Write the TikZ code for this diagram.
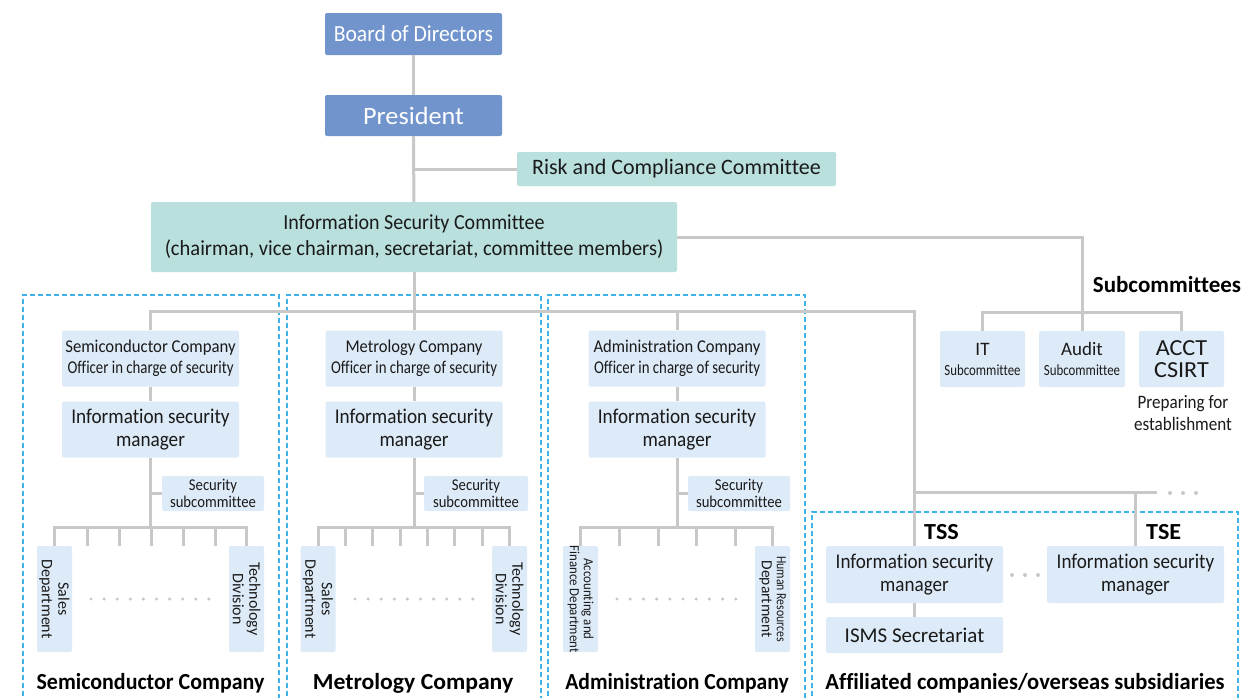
\documentclass[tikz,border=0pt]{standalone}
\usepackage{graphicx}
\usepackage{fontspec}
\setmainfont{Carlito}[Ligatures=NoCommon]
\definecolor{hdr}{HTML}{7194CC}
\definecolor{cteal}{HTML}{B9E0DD}
\definecolor{lblue}{HTML}{DDEAF7}
\definecolor{lgray}{HTML}{C8C8C8}
\definecolor{dgray}{HTML}{C8C8C8}
\definecolor{dsh}{HTML}{3DB3E8}
\definecolor{txt}{HTML}{1A1A1A}
\newcommand\hs[2]{\scalebox{#1}[1]{#2}}
\newcommand\fs[2]{\fontsize{#1}{#2}\selectfont}
\tikzset{
  conn/.style={draw=lgray, line width=3pt},
  bx/.style={rounded corners=2pt, fill=lblue, inner sep=0pt, align=center, text=txt},
  hbox/.style={bx, fill=hdr, text=white},
  tbox/.style={bx, fill=cteal},
  dept/.style={bx, minimum width=35pt, minimum height=106pt},
  vtxt/.style={rotate=-90, align=center, text=txt, inner sep=0pt},
  dbox/.style={draw=dsh, line width=1.4pt, dash pattern=on 5pt off 3pt},
  lab/.style={font=\fs{23}{26}\bfseries, text=black, inner sep=0pt},
  dot/.style={fill=dgray}
}
\begin{document}
\begin{tikzpicture}[x=1pt,y=-1pt]
\clip (0,0) rectangle (1247,697);
\fill[white] (0,0) rectangle (1247,697);
% dashed group boxes
\draw[dbox] (23,720) -- (23,295) -- (279,295) -- (279,720);
\draw[dbox] (287,720) -- (287,295) -- (541,295) -- (541,720);
\draw[dbox] (548,720) -- (548,295) -- (805,295) -- (805,720);
\draw[dbox] (812,720) -- (812,512) -- (1238,512) -- (1238,720);
% top nodes
\node[hbox, minimum width=177pt, minimum height=42pt, font=\fs{23}{26}] (bod) at (413.5,34) {\hs{0.94}{Board of Directors}};
\node[hbox, minimum width=177pt, minimum height=41pt, font=\fs{25}{28}] (pres) at (413.5,115.5) {\hs{1.05}{President}};
\node[tbox, minimum width=319pt, minimum height=34pt, font=\fs{22}{25}] (risk) at (676.5,169) {Risk and Compliance Committee};
\node[tbox, minimum width=526pt, minimum height=70pt, font=\fs{21.5}{26}] (isc) at (414,237) {\hs{0.93}{Information Security Committee}\\\hs{0.955}{(chairman, vice chairman, secretariat, committee members)}};
% columns
\node[bx, minimum width=177pt, minimum height=56pt, font=\fs{18}{21}] (semiO) at (150.5,358.5) {\hs{0.93}{Semiconductor Company}\\\hs{0.825}{Officer in charge of security}};
\node[bx, minimum width=177pt, minimum height=56pt, font=\fs{18}{21}] (metO) at (414,358.5) {\hs{0.92}{Metrology Company}\\\hs{0.825}{Officer in charge of security}};
\node[bx, minimum width=177pt, minimum height=56pt, font=\fs{18}{21}] (admO) at (677,358.5) {\hs{0.92}{Administration Company}\\\hs{0.825}{Officer in charge of security}};
\node[bx, minimum width=177pt, minimum height=56pt, font=\fs{21}{22.5}] (semiM) at (150.5,429.5) {\hs{0.915}{Information security}\\\hs{0.915}{manager}};
\node[bx, minimum width=177pt, minimum height=56pt, font=\fs{21}{22.5}] (metM) at (414,429.5) {\hs{0.915}{Information security}\\\hs{0.915}{manager}};
\node[bx, minimum width=177pt, minimum height=56pt, font=\fs{21}{22.5}] (admM) at (677,429.5) {\hs{0.915}{Information security}\\\hs{0.915}{manager}};
\node[bx, minimum width=102pt, minimum height=35pt, font=\fs{16.5}{16.5}] (semiS) at (213,493.5) {\hs{0.89}{Security}\\\hs{0.89}{subcommittee}};
\node[bx, minimum width=104pt, minimum height=35pt, font=\fs{16.5}{16.5}] (metS) at (476,493.5) {\hs{0.89}{Security}\\\hs{0.89}{subcommittee}};
\node[bx, minimum width=102pt, minimum height=35pt, font=\fs{16.5}{16.5}] (admS) at (739,493.5) {\hs{0.89}{Security}\\\hs{0.89}{subcommittee}};
% departments
\node[dept] (semiA) at (54.5,599) {};
\node[vtxt, font=\fs{16}{16.5}] (semiAt) at (semiA) {Sales\\Department};
\node[dept] (semiB) at (246.5,599) {};
\node[vtxt, font=\fs{16}{16.5}] (semiBt) at (semiB) {Technology\\Division};
\node[dept] (metA) at (318,599) {};
\node[vtxt, font=\fs{16}{16.5}] (metAt) at (metA) {Sales\\Department};
\node[dept] (metB) at (509.5,599) {};
\node[vtxt, font=\fs{16}{16.5}] (metBt) at (metB) {Technology\\Division};
\node[dept] (admA) at (580.5,599) {};
\node[vtxt, font=\fs{14}{14}] (admAt) at (admA) {\hs{0.92}{Accounting and}\\\hs{0.92}{Finance Department}};
\node[dept] (admB) at (772.5,599) {};
\node[vtxt, font=\fs{15.5}{15}] (admBt) at (admB) {\hs{0.84}{\fs{14}{14}Human Resources}\\Department};
% subcommittees
\node[bx, minimum width=85pt, minimum height=56pt, font=\fs{19}{20}] (it) at (982.5,359) {IT\\\hs{0.83}{\fs{15.5}{17}Subcommittee}};
\node[bx, minimum width=86pt, minimum height=56pt, font=\fs{19}{20}] (aud) at (1082,359) {Audit\\\hs{0.83}{\fs{15.5}{17}Subcommittee}};
\node[bx, minimum width=85pt, minimum height=56pt, font=\fs{23}{22}] (acct) at (1181.5,359) {\hs{1.05}{ACCT}\\\hs{1.05}{CSIRT}};
\node[font=\fs{19}{22}, align=center, text=txt, inner sep=0pt] (prep) at (1183,413) {\hs{0.9}{Preparing for}\\\hs{0.9}{establishment}};
\node[lab] (subl) at (1167,285) {Subcommittees};
% affiliated
\node[bx, minimum width=177pt, minimum height=57pt, font=\fs{21}{22.5}] (tssM) at (914.5,574.5) {\hs{0.91}{Information security}\\\hs{0.91}{manager}};
\node[bx, minimum width=177pt, minimum height=57pt, font=\fs{21}{22.5}] (tseM) at (1135.5,574.5) {\hs{0.91}{Information security}\\\hs{0.91}{manager}};
\node[bx, minimum width=177pt, minimum height=36pt, font=\fs{21}{22}] (isms) at (914.5,635) {ISMS Secretariat};
\node[lab, anchor=west] (tss) at (924,532) {\hs{1.05}{TSS}};
\node[lab, anchor=west] (tse) at (1146,532) {\hs{1.05}{TSE}};
% bottom labels
\node[lab] (l1) at (150.5,683) {\hs{0.955}{Semiconductor Company}};
\node[lab] (l2) at (413,683) {\hs{1.03}{Metrology Company}};
\node[lab] (l3) at (677,683) {\hs{0.94}{Administration Company}};
\node[lab] (l4) at (1025,683) {\hs{0.98}{Affiliated companies/overseas subsidiaries}};
% coordinates
\coordinate (bus) at (0,311);
\coordinate (abus) at (0,492.5);
\coordinate (affR) at (1157,492.5);
\coordinate (sj) at (1082,237);
\coordinate (sbus) at (0,312);
\coordinate (brk) at (0,527);
% connectors
\draw[conn] (bod) -- (pres);
\draw[conn] (pres) -- (isc);
\draw[conn] (pres.south |- risk.west) -- (risk.west);
\draw[conn] (isc) -- (metO);
\draw[conn] (semiO.north) -- (semiO.north |- bus) -- (tssM.north |- bus) -- (tssM.north);
\draw[conn] (admO.north) -- (admO.north |- bus);
\draw[conn] (tssM.north |- abus) -- (affR);
\draw[conn] (tseM.north) -- (tseM.north |- abus);
\draw[conn] (tssM) -- (isms);
\draw[conn] (isc.east) -- (sj) -- (aud.north);
\draw[conn] (it.north) -- (it.north |- sbus) -- (acct.north |- sbus) -- (acct.north);
\foreach \c in {semi,met,adm}{
  \draw[conn] (\c O) -- (\c M);
  \draw[conn] (\c M.south) -- (\c M.south |- brk);
  \draw[conn] (\c S.west) -- (\c S.west -| \c M.south);
  \draw[conn] (\c A.north) -- (\c A.north |- brk) -- (\c B.north |- brk) -- (\c B.north);
}
\foreach \x in {87,119,151,183,215}{\draw[conn] (\x,527) -- (\x,546);}
\foreach \x in {345,372,400,427,454,482}{\draw[conn] (\x,527) -- (\x,546);}
\foreach \x in {619,658,696,735}{\draw[conn] (\x,527) -- (\x,546);}
% dots
\foreach \i in {0,...,9}{
  \fill[dot] (91+\i*13.1,599) circle (1.7pt);
  \fill[dot] (355+\i*13.1,599) circle (1.7pt);
  \fill[dot] (617+\i*13.2,599) circle (1.7pt);
}
\foreach \x in {1170,1183,1196}{\fill[dot] (\x,493) circle (2pt);}
\foreach \x in {1012,1025,1038}{\fill[dot] (\x,575) circle (2pt);}
\end{tikzpicture}
\end{document}
